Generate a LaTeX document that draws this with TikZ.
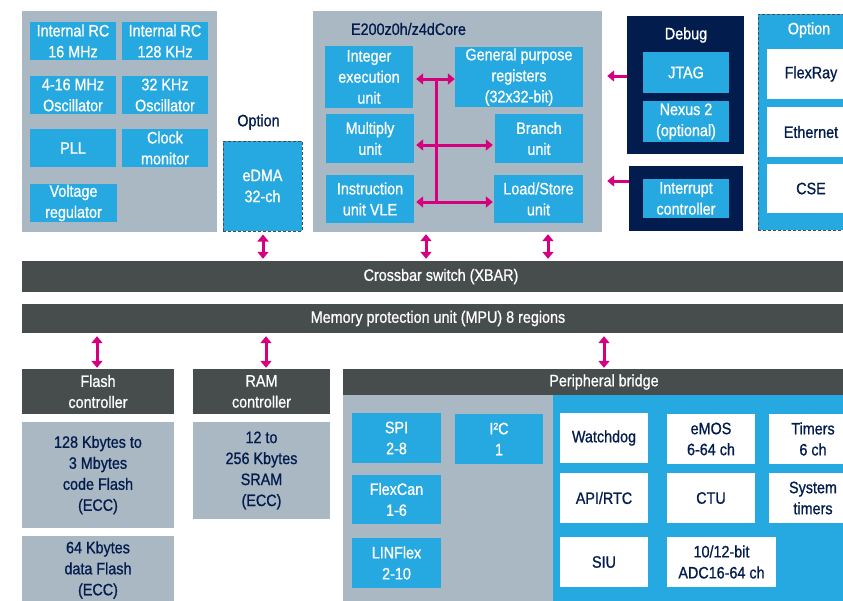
\documentclass[tikz,border=0pt]{standalone}
\usepackage{fontspec}
\setmainfont{Liberation Sans}[FakeStretch=0.87,FakeBold=0.9]
\usetikzlibrary{arrows.meta}
\definecolor{stblue}{RGB}{38,168,224}
\definecolor{lgray}{RGB}{169,184,194}
\definecolor{dgray}{RGB}{71,77,77}
\definecolor{navy}{RGB}{3,28,78}
\definecolor{mag}{RGB}{214,0,127}
\begin{document}
\begin{tikzpicture}[x=1pt,y=-1pt,
  every node/.style={inner sep=0pt, align=center, font=\fontsize{16.5}{21}\selectfont},
  sz/.style 2 args={minimum width=#1, minimum height=#2},
  blu/.style={fill=stblue, text=white},
  wht/.style={fill=white, text=navy},
  gry/.style={fill=lgray, text=navy},
  dk/.style={fill=dgray, text=white},
  nv/.style={fill=navy, text=white},
  dsh/.style={draw=dgray, dash pattern=on 3pt off 2pt, line width=1pt},
  lbl/.style={text=navy},
  wlbl/.style={text=white},
  bus/.style={draw=mag, line width=3pt},
  arr/.style={draw=mag, line width=3pt, {Triangle[width=11pt,length=7pt]}-{Triangle[width=11pt,length=7pt]}},
  arrl/.style={draw=mag, line width=3pt, -{Triangle[width=11pt,length=7pt]}}
]
\useasboundingbox (0,0) rectangle (843,600);

% ---------- clock group ----------
\node[gry,sz={195}{221}] (clk) at (119.5,121.5) {};
\node[blu,sz={86}{38}] (irc16) at (73,41) {Internal RC\\16 MHz};
\node[blu,sz={86}{38}] (irc128) at (165,41) {Internal RC\\128 KHz};
\node[blu,sz={86}{38}] (osc4) at (73,95) {4-16 MHz\\Oscillator};
\node[blu,sz={86}{38}] (osc32) at (165,95) {32 KHz\\Oscillator};
\node[blu,sz={86}{38}] (pll) at (73,148) {PLL};
\node[blu,sz={86}{38}] (clkmon) at (165,148) {Clock\\monitor};
\node[blu,sz={87}{38}] (vreg) at (73.5,203) {Voltage\\regulator};

% ---------- eDMA ----------
\node[lbl] (optl) at (258.5,122) {Option};
\node[blu,dsh,sz={79}{90}] (edma) at (262.5,186) {eDMA\\32-ch};

% ---------- core ----------
\node[gry,sz={289}{221}] (core) at (457.5,121.5) {};
\node[lbl] (coretitle) at (408.5,29) {E200z0h/z4dCore};
\node[blu,sz={88}{62}] (ieu) at (369,77) {Integer\\execution\\unit};
\node[blu,sz={128}{60}] (gpr) at (519,77) {General purpose\\registers\\(32x32-bit)};
\node[blu,sz={88}{49}] (mul) at (370,138.5) {Multiply\\unit};
\node[blu,sz={88}{49}] (bru) at (539,138.5) {Branch\\unit};
\node[blu,sz={88}{48}] (iu) at (370,199) {Instruction\\unit VLE};
\node[blu,sz={89}{48}] (lsu) at (538.5,199) {Load/Store\\unit};
\coordinate (b1) at (436,79);
\coordinate (b2) at (436,145);
\coordinate (b3) at (436,202);
\draw[bus] (b1) -- (b3);
\draw[arr,shorten <=3pt] (ieu.east |- b1) -- (gpr.west |- b1);
\draw[arr,shorten <=2pt,shorten >=2pt] (mul.east |- b2) -- (bru.west |- b2);
\draw[arr,shorten <=2pt,shorten >=1pt] (iu.east |- b3) -- (lsu.west |- b3);

% ---------- debug ----------
\node[nv,sz={117}{138}] (debug) at (685.5,85) {};
\node[wlbl] (debugt) at (686,35) {Debug};
\node[blu,sz={86}{41}] (jtag) at (686,72.5) {JTAG};
\node[blu,sz={86}{41}] (nexus) at (686,121.5) {Nexus 2\\(optional)};
\node[nv,sz={114}{65}] (irq) at (686,198.5) {};
\node[blu,sz={86}{39}] (intc) at (686,198.5) {Interrupt\\controller};
\coordinate (d1) at (0,76);
\coordinate (d2) at (0,181);
\draw[arrl,shorten >=5pt] (debug.west |- d1) -- (core.east |- d1);
\draw[arrl,shorten >=5pt] (irq.west |- d2) -- (core.east |- d2);

% ---------- option right ----------
\node[blu,dsh,sz={108}{216}] (optr) at (812,122) {};
\node[wlbl] (optrt) at (809,30) {Option};
\node[wht,sz={88}{50}] (flexray) at (811,74) {FlexRay};
\node[wht,sz={88}{50}] (eth) at (811,132) {Ethernet};
\node[wht,sz={88}{49}] (cse) at (811,188.5) {CSE};

% ---------- bars ----------
\node[dk,sz={838}{31}] (xbar) at (441,276.5) {Crossbar switch (XBAR)};
\node[dk,sz={832}{29}] (mpu) at (438,318.5) {Memory protection unit (MPU) 8 regions};
\coordinate (x1) at (263,0);
\coordinate (x2) at (426,0);
\coordinate (x3) at (548,0);
\draw[arr,shorten <=3pt,shorten >=2pt] (edma.south -| x1) -- (xbar.north -| x1);
\draw[arr,shorten <=2pt,shorten >=2pt] (core.south -| x2) -- (xbar.north -| x2);
\draw[arr,shorten <=2pt,shorten >=2pt] (core.south -| x3) -- (xbar.north -| x3);

% ---------- memory ----------
\node[dk,sz={152}{45}] (flashc) at (98,391.5) {Flash\\controller};
\node[dk,sz={137}{45}] (ramc) at (261.5,391.5) {RAM\\controller};
\node[gry,sz={152}{106}] (cflash) at (98,475) {128 Kbytes to\\3 Mbytes\\code Flash\\(ECC)};
\node[gry,sz={152}{68}] (dflash) at (98,570) {64 Kbytes\\data Flash\\(ECC)};
\node[gry,sz={137}{97}] (sram) at (261.5,470.5) {12 to\\256 Kbytes\\SRAM\\(ECC)};

% ---------- peripherals ----------
\node[dk,sz={522}{26}] (pbr) at (604,382) {Peripheral bridge};
\node[gry,sz={210}{210}] (pgray) at (448,500) {};
\node[blu,sz={312}{210}] (pblue) at (709,500) {};
\node[blu,sz={89}{50}] (spi) at (396.5,438) {SPI\\2-8};
\node[blu,sz={88}{50}] (i2c) at (499,439) {I²C\\1};
\node[blu,sz={89}{49}] (flexcan) at (396.5,499.5) {FlexCan\\1-6};
\node[blu,sz={89}{50}] (linflex) at (396.5,563) {LINFlex\\2-10};
\node[wht,sz={88}{50}] (wdg) at (604,438) {Watchdog};
\node[wht,sz={88}{50}] (emos) at (711,439) {eMOS\\6-64 ch};
\node[wht,sz={88}{50}] (timers) at (813,439) {Timers\\6 ch};
\node[wht,sz={88}{50}] (apirtc) at (604,498) {API/RTC};
\node[wht,sz={88}{50}] (ctu) at (711,498) {CTU};
\node[wht,sz={88}{50}] (systm) at (813,498) {System\\timers};
\node[wht,sz={88}{50}] (siu) at (604,562) {SIU};
\node[wht,sz={109}{50}] (adc) at (721.5,562) {10/12-bit\\ADC16-64 ch};

\coordinate (m1) at (97,0);
\coordinate (m2) at (266,0);
\coordinate (m3) at (604,0);
\draw[arr,shorten <=3pt,shorten >=1pt] (mpu.south -| m1) -- (flashc.north -| m1);
\draw[arr,shorten <=3pt,shorten >=1pt] (mpu.south -| m2) -- (ramc.north -| m2);
\draw[arr,shorten <=3pt,shorten >=1pt] (mpu.south -| m3) -- (pbr.north -| m3);
\end{tikzpicture}
\end{document}
